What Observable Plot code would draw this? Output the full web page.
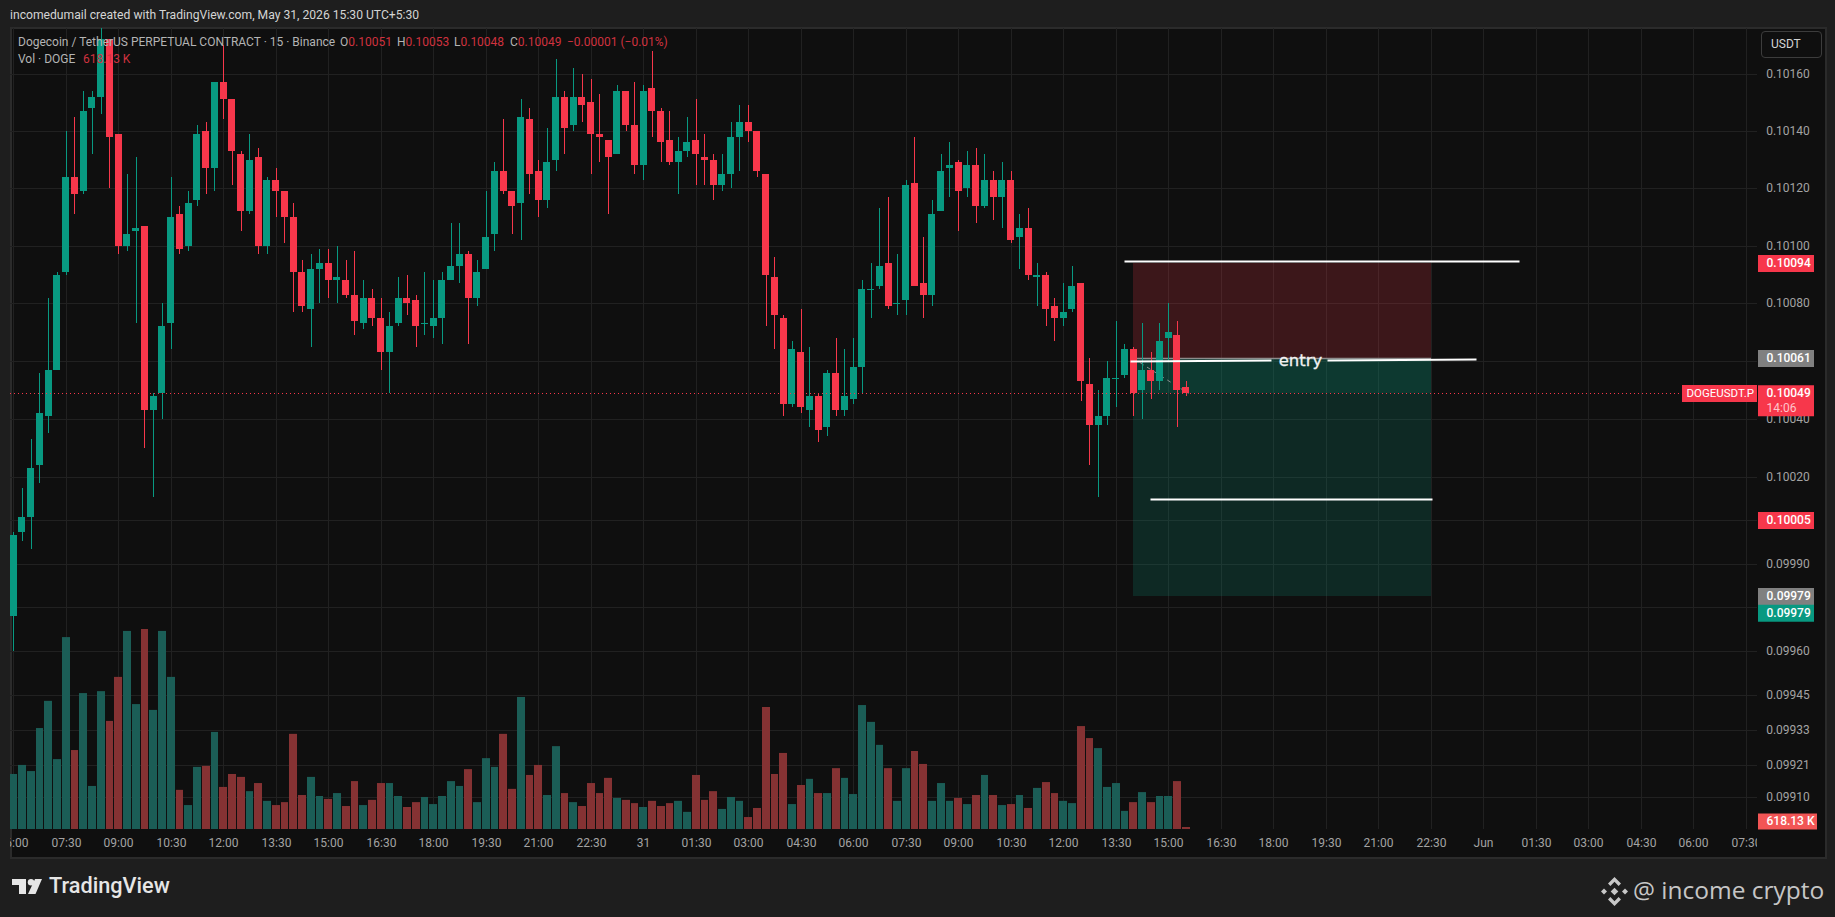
<!DOCTYPE html>
<html><head><meta charset="utf-8">
<script src="https://cdn.jsdelivr.net/npm/d3@7"></script>
<script src="https://cdn.jsdelivr.net/npm/@observablehq/plot@0.6"></script>
<style>
html,body{margin:0;padding:0;background:#1e1e1e;overflow:hidden}
#page{position:relative;width:1835px;height:917px;font-family:Roboto,sans-serif;overflow:hidden}
#page svg{position:absolute}
#pane{position:absolute;left:10px;top:27px;width:1813px;height:828px;background:#0f0f0f;border:2px solid #2b2b2b;border-right-width:2px}
#hdr{position:absolute;left:10px;top:7px;font-size:12.15px;line-height:16px;color:#d4d4d4;white-space:nowrap}
.leg{position:absolute;font-size:12px;line-height:16px;color:#b4b4b4;white-space:nowrap}
.leg b{font-weight:400;color:#d0323f}
.leg span{position:absolute;top:0;white-space:nowrap}
#usdt{position:absolute;left:1761px;top:31px;width:59px;height:25px;border:1px solid #3c3c3c;border-radius:4px;color:#d4d4d4;font-size:12px;line-height:25px;text-indent:9px;box-sizing:content-box}
#tv{position:absolute;left:49px;top:872px;font-size:21.7px;line-height:28px;font-weight:500;color:#e6e6e6}
#ic{position:absolute;left:1633px;top:872px;font-family:"Open Sans",sans-serif;font-size:24.5px;line-height:36px;color:#c6c6c6;white-space:nowrap}
</style></head><body><div id="page">
<div id="pane"></div>
<div id="hdr">incomedumail created with TradingView.com, May 31, 2026 15:30 UTC+5:30</div>
</div>
<script>
// Prices in units of 0.00001 USDT, one 15-minute bar each, first bar May 30 06:00
const opens=[9972,10001,10006,10024,10041,10057,10091,10124,10119,10148,10152,10172,10139,10100,10105,10107,10043,10049,10073,10111,10100,10116,10140,10127,10157,10151,10132,10112,10131,10100,10123,10119,10110,10091,10078,10092,10094,10088,10088,10083,10073,10082,10075,10063,10073,10082,10081,10073,10072,10075,10088,10093,10097,10082,10092,10104,10126,10119,10115,10144,10126,10116,10130,10152,10142,10152,10150,10139,10137,10132,10154,10142,10128,10155,10147,10137,10129,10133,10137,10131,10130,10121,10125,10138,10143,10140,10125,10089,10075,10045,10063,10043,10048,10037,10056,10043,10047,10058,10085,10086,10094,10080,10081,10122,10087,10083,10112,10127,10129,10120,10128,10114,10123,10117,10123,10103,10106,10089,10090,10079,10075,10078,10087,10052,10038,10041,10054,10055,10064,10050,10057,10053,10068,10069,10051];
const highs=[10001,10016,10033,10056,10082,10091,10140,10145,10154,10154,10178,10172,10139,10125,10131,10107,10049,10080,10124,10114,10119,10142,10143,10157,10170,10151,10133,10139,10134,10124,10127,10119,10115,10095,10097,10099,10099,10100,10095,10098,10088,10085,10082,10077,10089,10090,10083,10091,10088,10091,10108,10108,10098,10095,10119,10129,10144,10119,10151,10148,10130,10141,10165,10154,10162,10160,10158,10153,10137,10156,10154,10157,10156,10168,10148,10147,10138,10145,10151,10139,10132,10132,10143,10149,10149,10140,10125,10096,10076,10067,10078,10065,10049,10057,10068,10064,10068,10088,10094,10113,10117,10097,10123,10138,10103,10116,10132,10136,10130,10133,10134,10132,10126,10129,10126,10111,10113,10094,10091,10082,10087,10093,10087,10061,10050,10060,10074,10066,10065,10073,10063,10073,10080,10074,10053];
const lows=[9960,9998,9995,10018,10035,10057,10090,10111,10118,10132,10146,10120,10097,10098,10073,10030,10013,10040,10064,10097,10098,10114,10118,10119,10144,10121,10105,10111,10097,10097,10110,10101,10077,10077,10065,10080,10082,10080,10082,10069,10071,10072,10057,10049,10072,10076,10065,10069,10068,10066,10088,10087,10066,10079,10092,10098,10118,10104,10102,10118,10110,10113,10126,10132,10140,10143,10125,10129,10111,10132,10140,10125,10123,10138,10129,10128,10118,10131,10121,10121,10116,10119,10120,10126,10136,10124,10072,10064,10041,10044,10042,10037,10032,10034,10041,10041,10045,10049,10075,10085,10078,10076,10076,10086,10075,10079,10112,10117,10105,10117,10108,10113,10109,10106,10101,10092,10088,10079,10072,10067,10072,10077,10046,10024,10013,10038,10044,10054,10041,10040,10047,10050,10060,10037,10048];
const closes=[10000,10006,10023,10042,10057,10090,10124,10118,10147,10152,10172,10138,10100,10104,10106,10043,10048,10072,10110,10099,10115,10139,10127,10157,10151,10133,10112,10130,10100,10123,10119,10110,10091,10079,10092,10094,10088,10089,10083,10074,10082,10075,10063,10072,10082,10080,10072,10073,10075,10088,10093,10097,10082,10091,10103,10126,10119,10114,10145,10125,10116,10129,10152,10141,10152,10149,10139,10138,10131,10154,10142,10128,10154,10147,10136,10129,10133,10136,10132,10130,10121,10125,10138,10143,10140,10126,10090,10076,10045,10064,10044,10048,10036,10056,10043,10048,10058,10085,10085,10093,10079,10080,10121,10086,10083,10111,10126,10128,10119,10128,10114,10123,10117,10123,10102,10106,10090,10090,10078,10075,10077,10086,10053,10038,10041,10054,10054,10064,10049,10057,10053,10067,10070,10050,10049];
// Volume in millions of DOGE
const volumes=[17.0,19.8,17.9,31.2,39.6,21.6,59.3,24.4,42.0,13.3,42.6,33.4,47.0,61.2,38.6,61.8,36.8,61.2,47.0,12.1,7.4,19.2,19.5,30.0,13.0,17.0,16.1,11.7,14.2,8.7,7.4,8.3,29.4,10.5,16.1,10.2,9.3,11.1,7.1,14.8,7.4,9.0,14.2,14.2,10.2,6.8,8.3,9.9,7.7,10.2,14.8,13.3,18.5,8.3,21.9,19.2,29.4,12.4,40.8,16.7,19.8,10.5,25.6,11.1,8.3,7.1,14.2,11.1,15.8,9.6,9.0,8.0,6.8,8.7,7.1,8.0,8.7,5.3,16.7,9.0,11.7,6.2,9.9,8.7,3.7,6.5,37.7,17.0,23.5,7.7,13.6,15.5,11.1,11.1,18.8,15.8,10.8,38.3,33.1,26.0,18.8,8.7,18.8,24.1,20.1,8.7,14.2,8.7,9.6,7.7,10.5,16.7,10.5,7.4,7.7,10.5,6.5,12.7,14.5,11.1,8.7,8.0,31.8,28.1,25.0,13.0,14.2,5.6,8.3,11.4,8.3,10.2,10.2,14.8,0.618];
// Time axis: one label every 6 bars (90 minutes)
const timeLabels=["06:00","07:30","09:00","10:30","12:00","13:30","15:00","16:30","18:00","19:30","21:00","22:30","31","01:30","03:00","04:30","06:00","07:30","09:00","10:30","12:00","13:30","15:00","16:30","18:00","19:30","21:00","22:30","Jun","01:30","03:00","04:30","06:00","07:30"];
const barsPerLabel=6;
// Price axis
const priceTicks=[0.1016,0.1014,0.1012,0.101,0.1008,0.1006,0.1004,0.1002,0.10005,0.0999,0.09975,0.0996,0.09945,0.09933,0.09921,0.0991];
// Drawing tools on the chart
const riskBox={i1:128,i2:162,top:0.10094,bottom:0.10061};
const rewardBox={i1:128,i2:162,top:0.10061,bottom:0.09979};
const lastPrice=0.10049;
const lines=[
 {i1:126.9,i2:172.1,p1:0.100947,p2:0.100947},
 {i1:127.6,i2:143.7,p1:0.100600,p2:0.100605},
 {i1:150.2,i2:167.2,p1:0.100605,p2:0.100607},
 {i1:129.9,i2:162.1,p1:0.100124,p2:0.100124}
];
const entryLabel={i:147.06,p:0.100605,text:"entry"};
// Price tags at the axis
const tags=[
 {p:0.10094,text:"0.10094",fill:"#f7374b"},
 {p:0.10061,text:"0.10061",fill:"#808080"},
 {p:0.10005,text:"0.10005",fill:"#f7374b"},
 {p:0.09979,text:"0.09979",fill:"#808080"}
];

const UP="#089981",DOWN="#f7374b",VUP="#1b5d56",VDOWN="#853233",GRID="#212121";
const bars=opens.map((o,i)=>({i,open:o/1e5,high:highs[i]/1e5,low:lows[i]/1e5,close:closes[i]/1e5,vol:volumes[i]}));
const color=d=>d.close>=d.open?UP:DOWN;
const gridX=timeLabels.map((_,k)=>k*barsPerLabel);
const xDomain=[-0.366,199.29], H=829, frameB=28;
const tagL=199.4,tagR=205.77,tagTxt=200.3;
const font={fontFamily:"Roboto,sans-serif",fontSize:"12px",background:"transparent"};

const main=Plot.plot({
 width:1835,height:H,marginLeft:10,marginRight:78,marginTop:0,marginBottom:frameB,
 style:{...font,left:"0px",top:"28px"},
 x:{type:"linear",domain:xDomain,axis:null,round:true},
 y:{type:"log",domain:[0.098992,0.10176],axis:null,round:true},
 marks:[
  Plot.ruleY(priceTicks,{stroke:GRID,clip:true}),
  Plot.ruleX(gridX,{stroke:GRID,clip:true}),
  Plot.rect([riskBox],{x1:"i1",x2:"i2",y1:"bottom",y2:"top",fill:"#f23645",fillOpacity:.2}),
  Plot.rect([rewardBox],{x1:"i1",x2:"i2",y1:"bottom",y2:"top",fill:"#089981",fillOpacity:.19}),
  Plot.rect([{i1:128,i2:162,top:rewardBox.top,bottom:lastPrice}],{x1:"i1",x2:"i2",y1:"bottom",y2:"top",fill:"#089981",fillOpacity:.14}),
  Plot.ruleY([riskBox.bottom],{x1:riskBox.i1,x2:riskBox.i2,stroke:"#8c8c8c",strokeWidth:1.5}),
  Plot.link([{i1:128,i2:134.3,p1:0.10061,p2:lastPrice}],{x1:"i1",x2:"i2",y1:"p1",y2:"p2",stroke:"#8c8c8c",strokeDasharray:"4,4"}),
  Plot.ruleX(bars,{x:"i",y1:"low",y2:"high",stroke:color,clip:true}),
  Plot.rect(bars,{x1:d=>d.i-.4,x2:d=>d.i+.4,y1:"open",y2:"close",fill:color,clip:true}),
  Plot.ruleY(bars.filter(d=>d.open===d.close),{y:"open",x1:d=>d.i-.4,x2:d=>d.i+.4,stroke:color}),
  Plot.ruleY([lastPrice],{stroke:DOWN,strokeDasharray:"1,3",clip:true}),
  Plot.link(lines,{x1:"i1",x2:"i2",y1:"p1",y2:"p2",stroke:"#fff",strokeWidth:2}),
  Plot.text([entryLabel],{x:"i",y:"p",text:"text",fill:"#f2f2f2",stroke:"#f2f2f2",strokeWidth:.3,fontSize:16.5,fontFamily:"DejaVu Sans"}),
  Plot.axisY(priceTicks,{anchor:"right",tickSize:0,tickPadding:8.7,tickFormat:d=>d.toFixed(5),color:"#a3a3a3",fill:"#a3a3a3",label:null}),
  // tags
  Plot.ruleY(tags,{y:"p",x1:()=>tagL,x2:()=>tagR,stroke:"fill",strokeWidth:17}),
  Plot.text(tags,{y:"p",x:()=>tagTxt,text:"text",fill:"#fff",textAnchor:"start",fontWeight:500}),
  Plot.ruleY([0.09979],{x1:tagL,x2:tagR,stroke:UP,strokeWidth:17,dy:16.7}),
  Plot.text(["0.09979"],{y:()=>0.09979,x:()=>tagTxt,dy:16.7,fill:"#fff",textAnchor:"start",fontWeight:500}),
  Plot.ruleY([lastPrice],{x1:tagL,x2:tagR,stroke:DOWN,strokeWidth:31,dy:7.2}),
  Plot.text(["0.10049"],{y:()=>lastPrice,x:()=>tagTxt,fill:"#fff",textAnchor:"start",fontWeight:500}),
  Plot.text(["14:06"],{y:()=>lastPrice,x:()=>tagTxt,dy:15,fill:"#ffc4ca",textAnchor:"start"}),
  Plot.ruleY([lastPrice],{x1:190.7,x2:199.3,stroke:DOWN,strokeWidth:17}),
  Plot.text(["DOGEUSDT.P"],{y:()=>lastPrice,x:()=>191.14,fill:"#fff",textAnchor:"start",fontSize:11.5})
 ]
});

const vol=Plot.plot({
 width:1835,height:H,marginLeft:10,marginRight:78,marginTop:0,marginBottom:frameB,
 style:{...font,left:"0px",top:"28px"},
 x:{type:"linear",domain:xDomain,axis:null,round:true},
 y:{type:"linear",domain:[0,247.5],axis:null},
 marks:[
  Plot.rect(bars,{x1:d=>d.i-.45,x2:d=>d.i+.45,y1:()=>0,y2:"vol",fill:d=>d.close>=d.open?VUP:VDOWN,clip:true}),
  Plot.ruleY([0.618],{x1:tagL,x2:206.1,stroke:"#f25555",strokeWidth:16,dy:-6}),
  Plot.text(["618.13 K"],{y:()=>0.618,x:()=>tagTxt,dy:-6,fill:"#fff",textAnchor:"start",fontWeight:500})
 ]
});

const timeAxis=Plot.plot({
 width:1747,height:28,marginLeft:0,marginRight:0,marginTop:0,marginBottom:28,
 style:{...font,left:"10px",top:"829px"},
 x:{type:"linear",domain:xDomain,axis:null,round:true},
 marks:[Plot.axisX(gridX,{anchor:"bottom",tickSize:0,tickPadding:9,tickFormat:d=>timeLabels[d/barsPerLabel],color:"#a3a3a3",fill:"#a3a3a3",label:null})]
});

const page=document.getElementById("page");
page.append(main,vol,timeAxis);
page.insertAdjacentHTML("beforeend",`
<div class="leg" style="left:18px;top:34px">Dogecoin / TetherUS PERPETUAL CONTRACT · 15 · Binance
<span style="left:322px">O<b>0.10051</b></span><span style="left:379px">H<b>0.10053</b></span><span style="left:436px">L<b>0.10048</b></span><span style="left:492px">C<b>0.10049</b></span><span style="left:549px"><b>−0.00001 (−0.01%)</b></span></div>
<div class="leg" style="left:18px;top:51px">Vol · DOGE<span style="left:65px"><b>618.13 K</b></span></div>
<div id="usdt">USDT</div>
<svg style="left:12px;top:879px" width="30" height="16" viewBox="0 0 30 16"><path fill="#e6e6e6" d="M0 0H14V15H7V6H0Z"/><circle fill="#e6e6e6" cx="19" cy="3.2" r="3.2"/><path fill="#e6e6e6" d="M23 0H30L23.5 15H16Z"/></svg>
<div id="tv">TradingView</div>
<svg style="left:1600px;top:877px" width="29" height="29" viewBox="0 0 29 29"><g fill="#c8c8c8"><path d="M14.5 0L21 6.5L18.6 8.9L14.5 4.8L10.4 8.9L8 6.5Z"/><path d="M14.5 29L21 22.5L18.6 20.1L14.5 24.2L10.4 20.1L8 22.5Z"/><path d="M14.5 10.7L18.3 14.5L14.5 18.3L10.7 14.5Z"/><path d="M4 11.5L7 14.5L4 17.5L1 14.5Z"/><path d="M25 11.5L28 14.5L25 17.5L22 14.5Z"/></g></svg>
<div id="ic">@ income crypto</div>`);
</script></body></html>
